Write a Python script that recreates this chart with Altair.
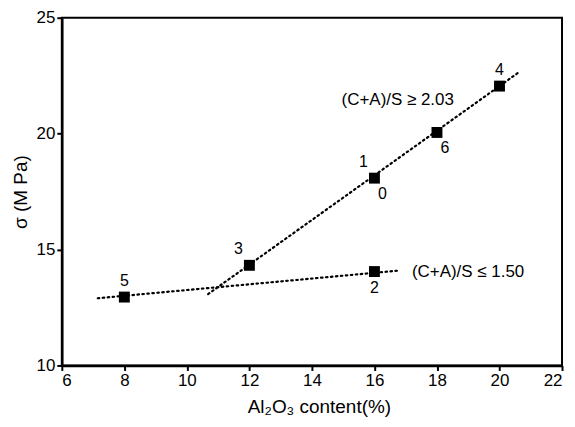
import altair as alt
import pandas as pd

# Data points (Al2O3 %, sigma MPa)
pt_x = [8, 12, 16, 16, 18, 20]
pt_y = [12.95, 14.32, 18.08, 14.05, 20.05, 22.05]

# Dotted trend lines (endpoints)
hi_x = [10.68, 20.6]
hi_y = [13.08, 22.63]
lo_x = [7.15, 16.83]
lo_y = [12.9, 14.1]

# Point labels grouped by placement
lab_above = {"x": [8, 20], "y": [12.95, 22.05], "t": ["5", "4"]}
lab_above_left = {"x": [12, 16], "y": [14.32, 18.08], "t": ["3", "1"]}
lab_below_right = {"x": [16, 18], "y": [18.08, 20.05], "t": ["0", "6"]}
lab_below = {"x": [16], "y": [14.05], "t": ["2"]}

# Series annotations
ann_t = ["(C+A)/S \u2265 2.03", "(C+A)/S \u2264 1.50"]
ann_x = [14.95, 17.2]
ann_y = [21.45, 14.05]

FONT = "Liberation Sans"

xs = alt.Scale(domain=[6, 22], nice=False, zero=False)
ys = alt.Scale(domain=[10, 25], nice=False, zero=False)

xax = alt.Axis(values=list(range(6, 23, 2)), title="Al\u2082O\u2083 content(%)", grid=False, titleX=258)
yax = alt.Axis(values=[10, 15, 20, 25], title="\u03c3 (M Pa)", grid=False)

pts = pd.DataFrame({"x": pt_x, "y": pt_y})
base_pts = alt.Chart(pts).mark_square(size=120, color="black", opacity=1).encode(
    x=alt.X("x:Q", scale=xs, axis=xax),
    y=alt.Y("y:Q", scale=ys, axis=yax),
)

def line(xv, yv):
    return alt.Chart(pd.DataFrame({"x": xv, "y": yv})).mark_line(
        color="black", strokeDash=[1.5, 3.5], strokeWidth=2.2, strokeCap="round"
    ).encode(x=alt.X("x:Q", scale=xs), y=alt.Y("y:Q", scale=ys))

def labels(d, dx, dy):
    return alt.Chart(pd.DataFrame(d)).mark_text(
        font=FONT, fontSize=16, color="black", dx=dx, dy=dy
    ).encode(x=alt.X("x:Q", scale=xs), y=alt.Y("y:Q", scale=ys), text="t:N")

ann = alt.Chart(pd.DataFrame({"x": ann_x, "y": ann_y, "t": ann_t})).mark_text(
    font=FONT, fontSize=17, color="black", align="left"
).encode(x=alt.X("x:Q", scale=xs), y=alt.Y("y:Q", scale=ys), text="t:N")

chart = alt.layer(
    line(hi_x, hi_y),
    line(lo_x, lo_y),
    base_pts,
    labels(lab_above, 0, -16),
    labels(lab_above_left, -11, -16),
    labels(lab_below_right, 8, 16),
    labels(lab_below, 0, 17),
    ann,
).properties(
    width=502,
    height=349,
    autosize=alt.AutoSizeParams(type="none"),
    padding={"left": 54, "top": 9, "right": 5, "bottom": 58},
).configure_view(
    stroke="black", strokeWidth=2
).configure_axis(
    domainColor="black", domainWidth=2.5, tickColor="black", tickWidth=2, tickSize=5,
    labelFont=FONT, labelFontSize=17, labelColor="black", labelPadding=2,
    titleFont=FONT, titleFontSize=19, titleFontWeight="normal", titleColor="black",
).configure_axisY(titlePadding=6).configure_axisX(titlePadding=9)

chart.save("out.html", embed_options={"renderer": "svg", "actions": False})
